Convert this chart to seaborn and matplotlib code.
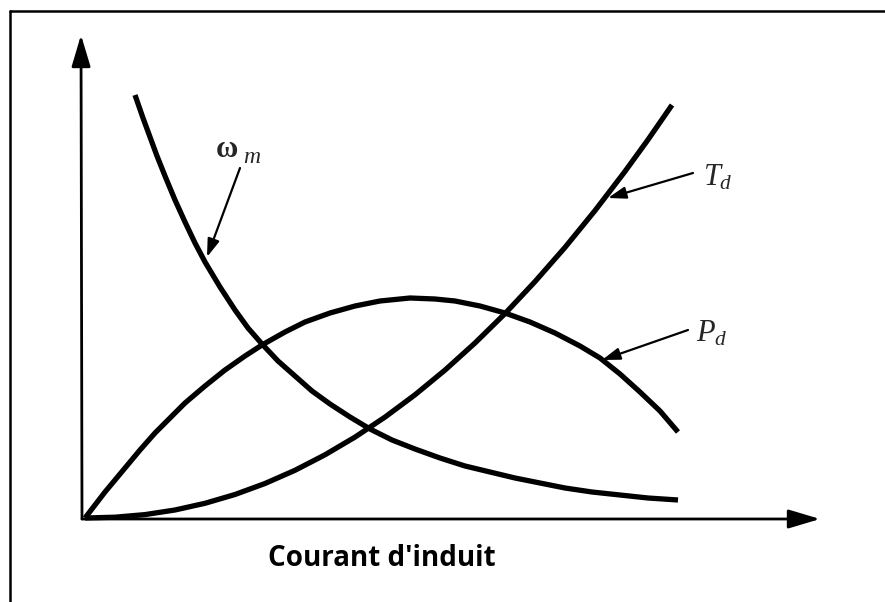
import matplotlib
matplotlib.use("Agg")
import matplotlib.pyplot as plt
import seaborn as sns
import pandas as pd
from matplotlib.lines import Line2D

# Armature current (arbitrary units) and the three characteristics
omega_current = [0.50, 0.58, 0.65, 0.72, 0.80, 0.90, 1.00, 1.10, 1.20, 1.35, 1.50, 1.63,
                 1.77, 1.93, 2.10, 2.27, 2.45, 2.65, 2.85, 3.07, 3.30, 3.55, 3.80, 4.05,
                 4.30, 4.55, 4.80, 5.07, 5.35, 5.63, 5.93]
omega_speed = [4.23, 4.00, 3.81, 3.62, 3.42, 3.18, 2.96, 2.75, 2.56, 2.31, 2.08, 1.90,
               1.74, 1.57, 1.42, 1.27, 1.14, 1.01, 0.89, 0.78, 0.69, 0.60, 0.52, 0.46,
               0.40, 0.35, 0.30, 0.26, 0.23, 0.20, 0.18]

torque_current = [0.00, 0.30, 0.60, 0.90, 1.20, 1.50, 1.80, 2.10, 2.40, 2.70, 3.00, 3.30,
                  3.60, 3.90, 4.20, 4.50, 4.80, 5.10, 5.40, 5.63, 5.87]
torque_value = [0.000, 0.008, 0.034, 0.080, 0.147, 0.235, 0.345, 0.477, 0.632, 0.809, 1.009,
                1.232, 1.479, 1.750, 2.044, 2.364, 2.706, 3.074, 3.466, 3.783, 4.130]

power_current = [0.00, 0.20, 0.40, 0.55, 0.70, 0.85, 1.00, 1.20, 1.40, 1.60, 1.77, 2.00,
                 2.20, 2.45, 2.70, 2.95, 3.25, 3.50, 3.70, 3.95, 4.20, 4.45, 4.70, 4.95,
                 5.15, 5.35, 5.55, 5.75, 5.93]
power_value = [0.00, 0.26, 0.50, 0.68, 0.85, 1.00, 1.15, 1.32, 1.48, 1.62, 1.73, 1.86,
               1.96, 2.05, 2.12, 2.17, 2.20, 2.19, 2.17, 2.12, 2.05, 1.96, 1.85, 1.72,
               1.60, 1.44, 1.26, 1.07, 0.86]

x_label = "Courant d'induit"

sns.set_theme(style="white")
plt.rcParams["font.family"] = ["DejaVu Sans"]
plt.rcParams["mathtext.fontset"] = "custom"
plt.rcParams["mathtext.rm"] = "Liberation Serif"
plt.rcParams["mathtext.it"] = "Liberation Serif:italic"
plt.rcParams["mathtext.bf"] = "Liberation Serif:bold"

fig = plt.figure(figsize=(8.85, 6.02), dpi=100)
ax = fig.add_axes([0, 0, 1, 1])
ax.set_xlim(-0.85, 8.00)
ax.set_ylim(-0.84, 5.18)
ax.axis("off")

curves = [
    (omega_current, omega_speed),
    (torque_current, torque_value),
    (power_current, power_value),
]
for xs, ys in curves:
    df = pd.DataFrame({"i": xs, "v": ys})
    sns.lineplot(data=df, x="i", y="v", sort=False, ax=ax, color="black",
                 linewidth=3.8, solid_capstyle="butt", solid_joinstyle="round")

# Axes drawn as arrows
axis_arrow = dict(arrowstyle="-|>,head_length=0.97,head_width=0.29",
                  mutation_scale=20, color="black", lw=2.0, shrinkA=0, shrinkB=0)
ax.annotate("", xy=(7.35, -0.01), xytext=(-0.03, -0.01), arrowprops=axis_arrow)
ax.annotate("", xy=(-0.04, 4.83), xytext=(-0.03, -0.01), arrowprops=axis_arrow)

# Curve labels with pointer arrows
label_arrow = dict(arrowstyle="-|>,head_length=0.9,head_width=0.3",
                   mutation_scale=12, color="black", lw=1.6, shrinkA=0, shrinkB=0)
ax.annotate("", xy=(1.22, 2.61), xytext=(1.55, 3.50), arrowprops=label_arrow)
ax.annotate("", xy=(5.23, 3.20), xytext=(6.08, 3.45), arrowprops=label_arrow)
ax.annotate("", xy=(5.17, 1.58), xytext=(6.03, 1.88), arrowprops=label_arrow)

serif = ["Liberation Serif", "DejaVu Serif"]
ax.text(1.31, 3.61, "ω", fontsize=22, fontweight="bold", family=serif,
        ha="left", va="baseline")
ax.text(1.58, 3.55, "m", fontsize=17, style="italic", family=serif,
        ha="left", va="baseline")
ax.text(6.18, 3.32, r"$T_d$", fontsize=22, ha="left", va="baseline")
ax.text(6.11, 1.76, r"$P_d$", fontsize=22, ha="left", va="baseline")

ax.text(2.97, -0.40, x_label, fontsize=20, fontweight="bold",
        family=["Open Sans", "DejaVu Sans"], ha="center", va="center", color="black")

# Outer frame (top and left edges)
fig.add_artist(Line2D([10 / 885, 1.0], [1 - 10.5 / 602, 1 - 10.5 / 602],
                      transform=fig.transFigure, color="black", lw=1.8))
fig.add_artist(Line2D([10 / 885, 10 / 885], [0.0, 1 - 10.5 / 602],
                      transform=fig.transFigure, color="black", lw=1.8))

fig.savefig("out.png", dpi=100, facecolor="white")
